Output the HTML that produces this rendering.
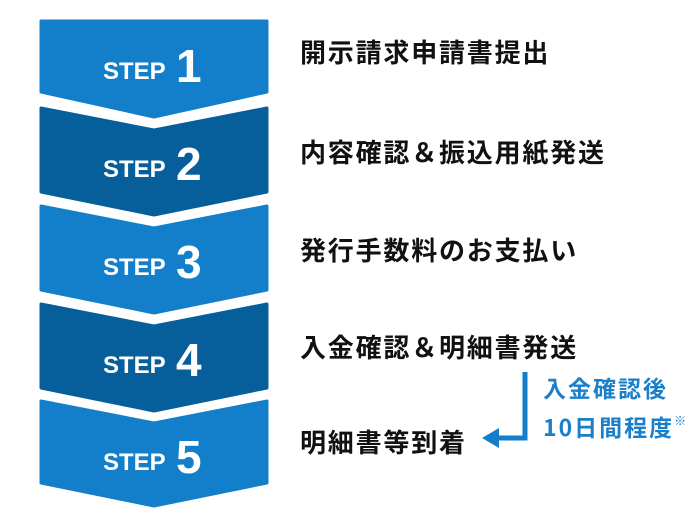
<!DOCTYPE html>
<html><head><meta charset="utf-8"><style>
body{margin:0;width:700px;height:530px;background:#fff;overflow:hidden;position:relative;font-family:"Liberation Sans","Noto Sans CJK JP",sans-serif}
svg{position:absolute;left:0;top:0}
.l{position:absolute;left:300px;font-size:26px;letter-spacing:1.8px;font-weight:bold;color:#111;line-height:1;font-family:"Noto Sans CJK JP","Liberation Sans",sans-serif}
.b{position:absolute;left:543px;font-size:23px;letter-spacing:2px;font-weight:bold;color:#1a7fcb;line-height:1;font-family:"Noto Sans CJK JP","Liberation Sans",sans-serif}
</style></head><body>
<svg width="700" height="530" viewBox="0 0 700 530">
<g stroke-linejoin="round" stroke-width="3">
<path d="M41,21 H267 V92 L154,117 L41,92 Z" fill="#137fca" stroke="#137fca"/>
<path d="M41,108 L154,130 L267,108 V192 L154,215 L41,192 Z" fill="#065f9a" stroke="#065f9a"/>
<path d="M41,206 L154,228 L267,206 V290 L154,313 L41,290 Z" fill="#137fca" stroke="#137fca"/>
<path d="M41,304 L154,326 L267,304 V388 L154,411 L41,388 Z" fill="#065f9a" stroke="#065f9a"/>
<path d="M41,401 L154,423 L267,401 V483 L154,506 L41,483 Z" fill="#137fca" stroke="#137fca"/>
</g>
<g fill="#fff" font-family="Liberation Sans,sans-serif" font-weight="bold">
<text x="103" y="79" font-size="24">STEP</text><text x="176" y="82" font-size="46">1</text>
<text x="103" y="177" font-size="24">STEP</text><text x="176" y="180" font-size="46">2</text>
<text x="103" y="275" font-size="24">STEP</text><text x="176" y="278" font-size="46">3</text>
<text x="103" y="373" font-size="24">STEP</text><text x="176" y="376" font-size="46">4</text>
<text x="103" y="470" font-size="24">STEP</text><text x="176" y="473" font-size="46">5</text>
</g>
<path d="M525,372 V438 H495" fill="none" stroke="#137fca" stroke-width="5"/>
<path d="M482,438 L499,428 L499,448 Z" fill="#137fca"/>
</svg>
<div class="l" style="top:39px">開示請求申請書提出</div>
<div class="l" style="top:139px">内容確認＆振込用紙発送</div>
<div class="l" style="top:237px">発行手数料のお支払い</div>
<div class="l" style="top:334px">入金確認＆明細書発送</div>
<div class="l" style="top:429px">明細書等到着</div>
<div class="b" style="top:376px">入金確認後</div>
<div class="b" style="top:415px">10日間程度<span style="font-size:12px;vertical-align:top;letter-spacing:0">※</span></div>
</body></html>
